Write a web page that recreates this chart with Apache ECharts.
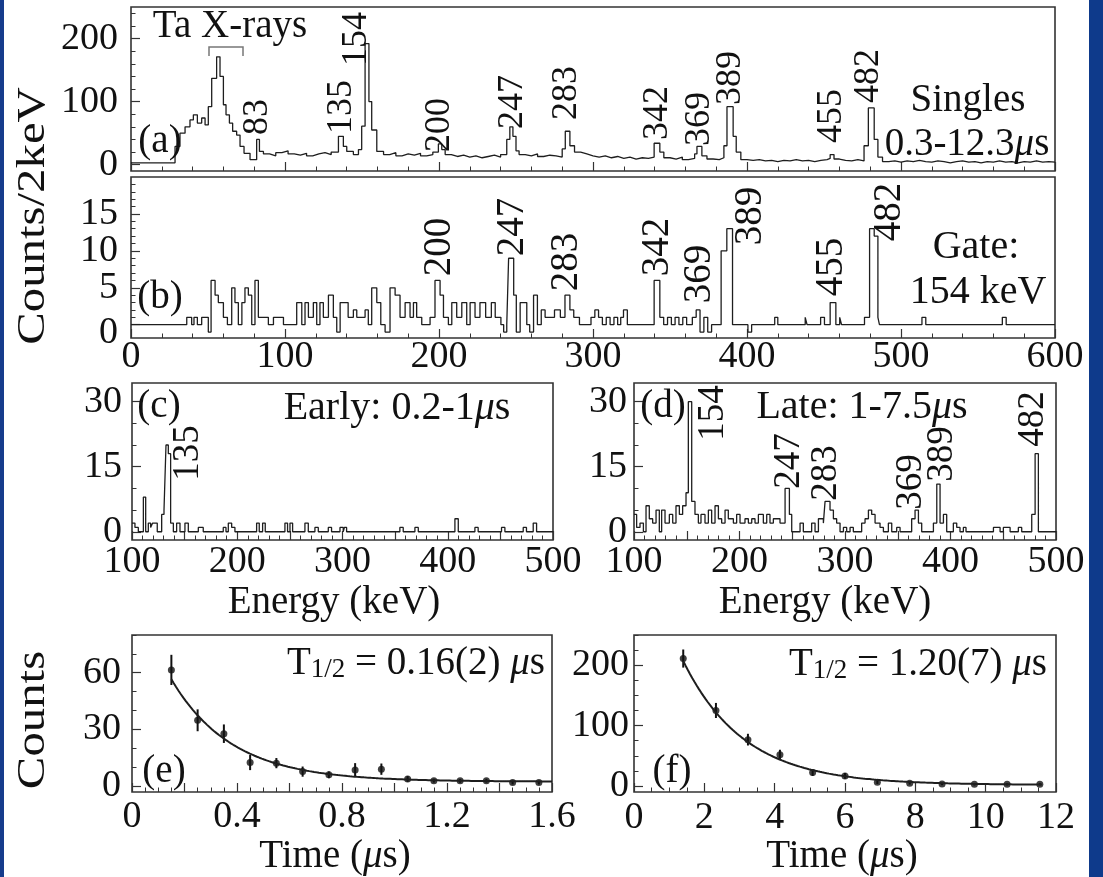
<!DOCTYPE html>
<html>
<head>
<meta charset="utf-8">
<script src="https://cdn.jsdelivr.net/npm/echarts@6/dist/echarts.min.js"></script>
<style>
html, body { margin: 0; padding: 0; background: #ffffff; }
#chart { width: 1103px; height: 877px; }
</style>
</head>
<body>
<div id="chart"></div>
<script>
// ---------- spectra: [lower bin edge (keV), counts] ----------
const singlesSpectrum = [
  [0,3],[28.6,29],[31.8,50],[35.1,60],[38.3,71],[40.5,79],[43.1,66],[45.9,74],[48.1,63],[50.2,92],
  [52.4,137],[55.6,171],[57.8,140],[60,95],[61.7,79],[63.9,66],[66,53],[68.6,47],[70.8,29],[73.4,18],
  [77.3,8],[81.6,40],[83.4,21],[86,17],[90,14],[94,19],[98,22],[102,17],[106,15],[110,18],
  [114,14],[118,17],[122,19],[126,16],[130,20],[134.7,45],[137.9,29],[140.1,21],[144.4,16],[147.7,24],
  [149.8,61],[152,192],[154.5,100],[156.3,55],[159.6,21],[164,16],[168,19],[172,14],[176,17],[180,15],
  [184,18],[188,14],[192,16],[196,20],[199.6,33],[201.8,24],[204,16],[208,13],[212,15],[216,12],
  [220,14],[224,11],[228,13],[232,15],[236,12],[240,16],[244,40],[246,60],[248,45],[250,22],
  [252,16],[256,14],[260,17],[264,13],[268,15],[272,14],[276,12],[280,25],[282,53],[285,30],
  [288,20],[292,17],[296,14],[300,12],[304,14],[308,11],[312,13],[316,10],[320,12],[324,9],
  [328,11],[332,10],[336,12],[339.7,34],[343.4,20],[346,11],[350,9],[354,12],[358,8],[362,10],
  [366,17],[367.5,29],[370.7,14],[374,9],[378,8],[382,11],[385,30],[387,92],[391,45],[393,20],
  [396,8],[400,7],[404,8],[408,6],[412,7],[416,5],[420,7],[424,6],[428,8],[432,6],
  [436,7],[440,5],[444,7],[448,8],[452,10],[454,16],[456.5,9],[460,7],[464,6],[468,8],
  [472,6],[476,30],[478.8,90],[482.6,40],[485,12],[488,5],[492,6],[496,4],[500,6],[504,5],
  [508,7],[512,5],[516,4],[520,6],[524,5],[528,3],[532,5],[536,6],[540,4],[544,5],
  [548,3],[552,5],[556,4],[560,6],[564,4],[568,5],[572,3],[576,5],[580,4],[584,6],
  [588,4],[592,5],[596,4],[600,4]
];

const gatedSpectrum = [
  [0,0],[36.2,1],[39.4,0],[40.9,1],[43.1,0],[45.9,1],[50.2,-1],[52,6],[54.6,4],[56.7,3],
  [60,1],[62.6,0],[65.4,5],[67.5,3],[69.7,0],[72,3],[74,5],[76.2,4],[78.4,0],[80.5,6],
  [82.7,1],[89.2,0],[92.5,1],[99,0],[107.6,3],[110.9,0],[113,3],[115.2,1],[118.4,3],[120.6,0],
  [122.7,3],[124.9,1],[128.2,4],[131.4,1],[133.6,-1],[135.8,3],[141,1],[144.4,2],[146.6,1],[152,2],
  [154.1,0],[156.3,5],[159.6,3],[162.2,0],[165,-1],[168.2,5],[171.5,4],[174.7,1],[178,3],[181.2,1],
  [183.4,3],[185.5,1],[188.8,0],[194.2,1],[197.4,6],[200.7,4],[202.9,1],[206.1,0],[208.3,3],[211.5,1],
  [214.8,3],[218,0],[220.2,3],[223.4,1],[226.6,3],[230.3,1],[234,3],[236.5,1],[240.2,0],[242,-1],
  [244,0],[245.2,9],[248.5,4],[250.2,-1],[252.7,3],[257,0],[258.9,-1],[261.4,4],[263.9,0],[266.4,2],
  [268.9,1],[275,2],[278.8,1],[281.8,4],[285,2],[287.5,1],[291.2,0],[298.7,1],[301.2,2],[303.6,1],
  [306.1,0],[308.6,1],[311.1,0],[313.6,1],[316,0],[318,1],[319.8,2],[322.3,0],[339.7,6],[343.4,1],
  [345.9,0],[348.4,1],[350.9,0],[353.3,1],[355.8,0],[358.3,1],[360.8,0],[364.5,1],[367,2],[369.5,-1],
  [372,1],[374.5,-1],[377,0],[383.2,10],[386.9,13],[390.6,0],[400.6,-1],[403,0],[418,1],[420,0],
  [437.8,1],[439,0],[447.8,1],[450.3,0],[454,3],[457.7,0],[460.2,1],[461.4,0],[476.3,1],[479.6,13],
  [482.6,12],[485,1],[486,0],[513.6,1],[516.1,0],[565.8,1],[568.3,0],[600,0]
];

const earlySpectrum = [
  [100,2],[102.8,1],[106,0],[110.8,8],[113,0],[115.5,2],[117.7,1],[119.6,2],[124,0],[128.2,4],
  [130.4,5],[132.3,20],[134.5,18],[136.7,2],[139.3,0],[142.4,2],[145.6,0],[150.3,2],[153.5,0],[163,1],
  [167.7,0],[186.7,1],[189.3,0],[191.5,2],[194.7,1],[197.8,0],[218.4,2],[220.9,0],[224.1,2],[226.6,0],
  [245.3,2],[247.8,0],[250.1,2],[252.6,0],[264.3,2],[267.5,0],[273.8,1],[277,0],[286.5,1],[289.6,0],
  [297.6,1],[300.7,0],[301.8,1],[303.9,0],[354.5,1],[357.7,0],[368.8,1],[372,0],[406.8,3],[410,0],
  [425.8,1],[428.9,0],[451.1,1],[454.3,0],[471.7,1],[474.8,0],[481.2,2],[484.4,0],[500,0]
];

const lateSpectrum = [
  [100,4],[102.5,1],[105.7,2],[108.9,0],[111.4,6],[114.5,3],[117.7,2],[120.9,5],[124,0],[126.2,5],
  [129.4,2],[133.5,4],[136.7,2],[139.8,6],[143,4],[146.1,6],[149.3,9],[151.5,30],[154.7,7],[157.8,4],
  [161,2],[163.5,4],[167.3,2],[170.5,5],[173.6,2],[176.8,6],[180,3],[183.1,2],[186.3,5],[189.4,3],
  [194.2,2],[197.3,4],[200.5,2],[205.2,3],[208.4,2],[211.6,3],[214.7,2],[217.9,4],[222.6,2],[225.8,4],
  [228.9,2],[232.1,3],[235.3,3],[238.4,2],[243.2,10],[247.3,4],[249.5,0],[257.4,2],[260.5,0],[268.4,2],
  [271.6,0],[274.8,3],[279.5,2],[281.1,7],[285.8,5],[289,3],[292.1,2],[295.3,0],[298.5,1],[301.6,0],
  [304.8,1],[307.9,0],[315.8,2],[319,3],[322.2,5],[325.3,4],[328.5,2],[333.2,1],[336.4,0],[341.1,2],
  [344.3,0],[349,1],[352.2,0],[363.2,3],[366.4,5],[369.6,2],[372.7,0],[383.8,2],[387,11],[390.1,2],
  [393.3,4],[396.4,0],[402.7,2],[405.9,1],[409,0],[412.2,1],[414.7,0],[440.7,1],[447,0],[450.1,1],
  [456.5,0],[464.3,1],[467.5,0],[477,4],[480.2,18],[483.3,0],[500,0]
];

// ---------- decay curves ----------
const earlyTimes  = [0.15, 0.25, 0.35, 0.45, 0.55, 0.65, 0.75, 0.85, 0.95, 1.05, 1.15, 1.25, 1.35, 1.45, 1.55];
const earlyCounts = [61.5, 34.8, 27.7, 12.4, 12.1, 7.6, 5.9, 8.5, 8.9, 3.7, 2.8, 2.7, 2.8, 1.8, 1.8];
const earlyErrors = [8, 5.8, 4.9, 4, 2.7, 2.7, 1.8, 3.6, 3, 1.5, 1, 1, 1, 1, 1];

const lateTimes  = [1.40, 2.33, 3.24, 4.15, 5.08, 6.00, 6.92, 7.84, 8.76, 9.68, 10.61, 11.54];
const lateCounts = [211, 125, 76.7, 51.7, 22.2, 16.7, 6.1, 4.4, 3.3, 2.8, 2.8, 2.8];
const lateErrors = [15, 12.5, 9.7, 8.3, 5.6, 4.7, 2.8, 2, 2, 2, 2, 2];

// fitted exponential + flat background; half-lives as quoted on the panels
const earlyHalfLife = 0.16, earlyAmplitude = 103.8, earlyBackground = 2.3, earlyFitRange = [0.15, 1.6];
const lateHalfLife  = 1.20, lateAmplitude  = 461,   lateBackground  = 1.7, lateFitRange  = [1.4, 11.6];

// ---------- tick labels ----------
const spectrumEnergyTicks = [0, 100, 200, 300, 400, 500, 600];
const windowEnergyTicks   = [100, 200, 300, 400, 500];
const singlesCountTicks   = [0, 100, 200];
const gatedCountTicks     = [0, 5, 10, 15];
const windowCountTicks    = [0, 15, 30];
const earlyTimeTicks      = [0, 0.4, 0.8, 1.2, 1.6];
const lateTimeTicks       = [0, 2, 4, 6, 8, 10, 12];
const earlyDecayTicks     = [0, 30, 60];
const lateDecayTicks      = [0, 100, 200];

// ---------- helpers ----------
const FONT = 'Liberation Serif';
const INK = '#111111';
const FRAME = '#333333';
const LINE = '#1e1e1e';
const TICK_FONT = 38;

function steps(a, b, s) {
  const out = [];
  const n = Math.round((b - a) / s);
  for (let i = 0; i <= n; i++) out.push(+(a + i * s).toFixed(4));
  return out;
}
function without(all, majors) {
  return all.filter(v => !majors.some(m => Math.abs(m - v) < 1e-6));
}
function decayCurve(amp, halfLife, bg, range, n) {
  const pts = [];
  for (let i = 0; i <= n; i++) {
    const t = range[0] + (range[1] - range[0]) * i / n;
    pts.push([t, amp * Math.pow(2, -t / halfLife) + bg]);
  }
  return pts;
}

// the gated panel's count labels sit closer together than the text height,
// so they are placed by hand from the axis scale after layout (manualY)
const panels = [
  { grid: { left: 131, top: 7,   width: 924, height: 164 }, x: [0, 600], y: [-10, 250],
    xLabels: null, xMajor: spectrumEnergyTicks, xMinor: steps(0, 600, 20),
    yLabels: singlesCountTicks, yMajor: singlesCountTicks, yMinor: steps(0, 240, 20), yMargin: 13, xMargin: 0 },
  { grid: { left: 131, top: 177, width: 924, height: 161 }, x: [0, 600], y: [-1.8, 20],
    xLabels: spectrumEnergyTicks, xMajor: spectrumEnergyTicks, xMinor: steps(0, 600, 20),
    yLabels: null, manualY: gatedCountTicks, yMajor: gatedCountTicks, yMinor: steps(0, 19, 1), yMargin: 13, xMargin: 0 },
  { grid: { left: 132, top: 383, width: 421, height: 157 }, x: [100, 500], y: [-1.9, 34.3],
    xLabels: windowEnergyTicks, xMajor: steps(100, 500, 50), xMinor: steps(100, 500, 10),
    yLabels: windowCountTicks, yMajor: windowCountTicks, yMinor: steps(0, 30, 5), yMargin: 10, xMargin: 3 },
  { grid: { left: 634, top: 383, width: 422, height: 157 }, x: [100, 500], y: [-1.9, 34.3],
    xLabels: windowEnergyTicks, xMajor: steps(100, 500, 50), xMinor: steps(100, 500, 10),
    yLabels: windowCountTicks, yMajor: windowCountTicks, yMinor: steps(0, 30, 5), yMargin: 7, xMargin: 3 },
  { grid: { left: 132, top: 635, width: 420, height: 157 }, x: [0, 1.6], y: [-3.2, 80],
    xLabels: earlyTimeTicks, xMajor: steps(0, 1.6, 0.2), xMinor: steps(0, 1.6, 0.05),
    yLabels: earlyDecayTicks, yMajor: earlyDecayTicks, yMinor: steps(0, 80, 10), yMargin: 11, xMargin: 6 },
  { grid: { left: 634, top: 635, width: 422, height: 157 }, x: [0, 12], y: [-10, 250],
    xLabels: lateTimeTicks, xMajor: lateTimeTicks, xMinor: steps(0, 12, 0.5),
    yLabels: lateDecayTicks, yMajor: lateDecayTicks, yMinor: steps(0, 250, 25), yMargin: 5, xMargin: 7 }
];

const grids = [], xAxes = [], yAxes = [];

function axisPair(dim, gridIndex, range, labels, majors, minors, margin) {
  const base = {
    type: 'value', gridIndex, min: range[0], max: range[1],
    position: dim === 'x' ? 'bottom' : 'left',
    axisLine: { show: false, onZero: false },
    splitLine: { show: false },
    splitArea: { show: false }
  };
  const major = Object.assign({}, base, {
    axisTick: { show: true, inside: true, length: 9, customValues: majors, lineStyle: { color: FRAME, width: 1.2 } },
    axisLabel: labels ? {
      show: true, customValues: labels, margin, showMinLabel: true, showMaxLabel: true, hideOverlap: false,
      fontFamily: FONT, fontSize: TICK_FONT, color: INK, formatter: v => String(v)
    } : { show: false }
  });
  const minor = Object.assign({}, base, {
    axisTick: { show: true, inside: true, length: 4.5, customValues: without(minors, majors), lineStyle: { color: FRAME, width: 1 } },
    axisLabel: { show: false }
  });
  return [major, minor];
}

panels.forEach((p, i) => {
  grids.push(Object.assign({ show: true, borderColor: FRAME, borderWidth: 1.6, backgroundColor: 'transparent',
    containLabel: false, outerBoundsMode: 'none' }, p.grid));
  xAxes.push(...axisPair('x', i, p.x, p.xLabels, p.xMajor, p.xMinor, p.xMargin));
  yAxes.push(...axisPair('y', i, p.y, p.yLabels, p.yMajor, p.yMinor, p.yMargin));
});

function histogram(i, data) {
  return {
    type: 'line', xAxisIndex: 2 * i, yAxisIndex: 2 * i, data, step: 'end',
    symbol: 'none', showSymbol: false, silent: true, clip: true,
    lineStyle: { color: LINE, width: 1.3 }
  };
}
function zipPoints(xs, ys, es) {
  return xs.map((x, k) => es ? [x, ys[k], es[k]] : [x, ys[k]]);
}
function decaySeries(i, times, counts, errors, amp, halfLife, bg, fitRange) {
  return [
    {
      type: 'line', xAxisIndex: 2 * i, yAxisIndex: 2 * i, silent: true, symbol: 'none',
      data: decayCurve(amp, halfLife, bg, fitRange, 160),
      lineStyle: { color: LINE, width: 2 }
    },
    {
      type: 'custom', xAxisIndex: 2 * i, yAxisIndex: 2 * i, silent: true,
      data: zipPoints(times, counts, errors),
      renderItem: (params, api) => {
        const x = api.value(0), y = api.value(1), e = api.value(2);
        const hi = api.coord([x, y + e]), lo = api.coord([x, y - e]);
        return { type: 'line', shape: { x1: hi[0], y1: hi[1], x2: lo[0], y2: lo[1] },
                 style: { stroke: INK, lineWidth: 2 } };
      }
    },
    {
      type: 'scatter', xAxisIndex: 2 * i, yAxisIndex: 2 * i, silent: true,
      data: zipPoints(times, counts), symbol: 'circle', symbolSize: 7,
      itemStyle: { color: INK }
    }
  ];
}

const series = [
  histogram(0, singlesSpectrum),
  histogram(1, gatedSpectrum),
  histogram(2, earlySpectrum),
  histogram(3, lateSpectrum),
  ...decaySeries(4, earlyTimes, earlyCounts, earlyErrors, earlyAmplitude, earlyHalfLife, earlyBackground, earlyFitRange),
  ...decaySeries(5, lateTimes, lateCounts, lateErrors, lateAmplitude, lateHalfLife, lateBackground, lateFitRange)
];

// ---------- annotations ----------
function txt(text, x, y, size, opts) {
  opts = opts || {};
  const align = opts.align || 'center';
  return {
    type: 'text', x, y, z: 100, silent: true,
    rotation: opts.rotate ? Math.PI / 2 : 0,
    scaleX: opts.stretch || 1, scaleY: 1,
    style: {
      text, fill: INK, fontFamily: FONT, fontSize: size,
      align, verticalAlign: 'middle', textAlign: align, textVerticalAlign: 'middle',
      rich: opts.rich
    }
  };
}
function italicMu(size) {
  return {
    r: { fontFamily: FONT, fontSize: size, fill: INK },
    m: { fontFamily: FONT, fontSize: size, fill: INK, fontStyle: 'italic' },
    s: { fontFamily: FONT, fontSize: Math.round(size * 0.68), fill: INK, verticalAlign: 'bottom' }
  };
}
const vert = (t, x, y, size) => txt(t, x, y, size, { rotate: true });

const graphics = [
  // page border strips
  { type: 'rect', z: 1, silent: true, shape: { x: 0, y: 0, width: 4, height: 877 }, style: { fill: '#163c8c' } },
  { type: 'rect', z: 1, silent: true, shape: { x: 1089, y: 0, width: 14, height: 877 }, style: { fill: '#0e3a8b' } },

  // axis titles
  txt('Counts/2keV', 33, 216, 40, { rotate: true, stretch: 1.22 }),
  txt('Counts', 33, 720, 40, { rotate: true, stretch: 1.22 }),
  txt('Energy (keV)', 334, 603, 39),
  txt('Energy (keV)', 825, 603, 39),
  txt('{r|Time (}{m|μ}{r|s)}', 335, 857, 39, { rich: italicMu(39) }),
  txt('{r|Time (}{m|μ}{r|s)}', 842, 857, 39, { rich: italicMu(39) }),

  // (a) singles
  txt('Ta X-rays', 230, 27, 39),
  { type: 'polyline', z: 100, silent: true, shape: { points: [[209, 56], [209, 47], [243, 47], [243, 56]] },
    style: { stroke: '#777777', fill: null, lineWidth: 1.5 } },
  txt('(a)', 160, 142, 39),
  vert('83', 258, 117, 36), vert('135', 342, 107, 36), vert('154', 357, 39, 36),
  vert('200', 440, 125, 36), vert('247', 513, 102, 36), vert('283', 567, 93, 36),
  vert('342', 658, 113, 36), vert('369', 700, 119, 36), vert('389', 731, 78, 36),
  vert('455', 832, 116, 36), vert('482', 869, 76, 36),
  txt('Singles', 968, 101, 39),
  txt('{r|0.3-12.3}{m|μ}{r|s}', 967, 145, 39, { rich: italicMu(39) }),

  // (b) gated
  txt('(b)', 160, 298, 39),
  vert('200', 440, 247, 39), vert('247', 513, 227, 39), vert('283', 567, 262, 39),
  vert('342', 658, 247, 39), vert('369', 700, 274, 39), vert('389', 751, 216, 39),
  vert('455', 832, 267, 39), vert('482', 890, 212, 39),
  txt('Gate:', 976, 247, 40),
  txt('154 keV', 978, 292, 40),

  // (c) early window
  txt('(c)', 159, 407, 39),
  txt('{r|Early: 0.2-1}{m|μ}{r|s}', 397, 408, 40, { rich: italicMu(40) }),
  vert('135', 188, 453, 37),

  // (d) late window
  txt('(d)', 663, 407, 39),
  vert('154', 713, 413, 37),
  txt('{r|Late: 1-7.5}{m|μ}{r|s}', 862, 407, 40, { rich: italicMu(40) }),
  vert('247', 789, 461, 37), vert('283', 826, 473, 37), vert('369', 911, 482, 37),
  vert('389', 942, 454, 37), vert('482', 1033, 419, 37),

  // (e), (f) decay curves
  txt('{r|T}{s|1/2}{r| = 0.16(2) }{m|μ}{r|s}', 416, 664, 39, { rich: italicMu(39) }),
  txt('(e)', 164, 772, 39),
  txt('{r|T}{s|1/2}{r| = 1.20(7) }{m|μ}{r|s}', 918, 665, 39, { rich: italicMu(39) }),
  txt('(f)', 672, 772, 39)
];

const chart = echarts.init(document.getElementById('chart'), null, { renderer: 'canvas' });
chart.setOption({
  animation: false,
  backgroundColor: '#ffffff',
  grid: grids,
  xAxis: xAxes,
  yAxis: yAxes,
  series,
  graphic: { elements: graphics }
});

// place the hand-positioned count labels from the axis scale
panels.forEach((p, i) => {
  if (!p.manualY) return;
  p.manualY.forEach(v => {
    const pt = chart.convertToPixel({ xAxisIndex: 2 * i, yAxisIndex: 2 * i }, [p.x[0], v]);
    // the zero label is nudged down a little so it clears the energy label below
    const dy = v === 0 ? 8 : 0;
    graphics.push(txt(String(v), pt[0] - p.yMargin, pt[1] + dy, TICK_FONT, { align: 'right' }));
  });
});
chart.setOption({ graphic: { elements: graphics } });
</script>
</body>
</html>
